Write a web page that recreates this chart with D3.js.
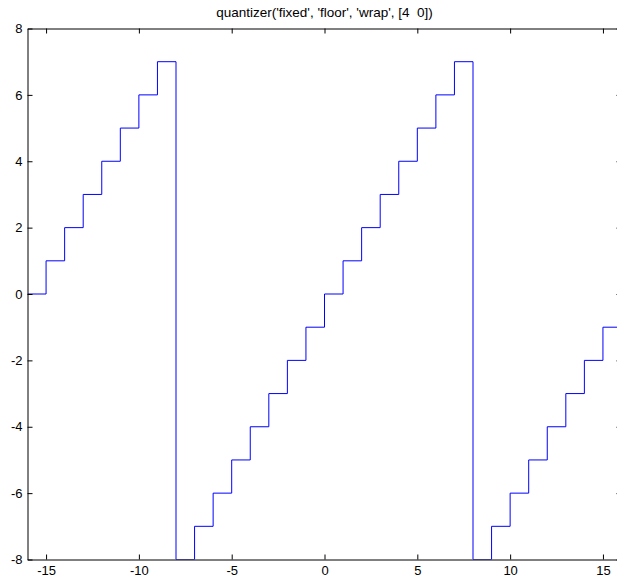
<!DOCTYPE html>
<html>
<head>
<meta charset="utf-8">
<script src="https://d3js.org/d3.v7.min.js"></script>
<style>
  body { margin: 0; background: #fff; }
  text { font-family: "Liberation Sans", Arial, sans-serif; fill: #000; }
</style>
</head>
<body>
<div id="chart"></div>
<script>
// stair samples: input value and quantized (floor, wrap, [4 0]) output
var xs = [-16, -15, -14, -13, -12, -11, -10, -9, -8, -7, -6, -5, -4, -3, -2, -1,
          0, 1, 2, 3, 4, 5, 6, 7, 8, 9, 10, 11, 12, 13, 14, 15, 16];
var ys = [0, 1, 2, 3, 4, 5, 6, 7, -8, -7, -6, -5, -4, -3, -2, -1,
          0, 1, 2, 3, 4, 5, 6, 7, -8, -7, -6, -5, -4, -3, -2, -1, -1];
var xTicks = [-15, -10, -5, 0, 5, 10, 15];
var yTicks = [-8, -6, -4, -2, 0, 2, 4, 6, 8];
var title = "quantizer('fixed', 'floor', 'wrap', [4  0])";

var W = 617, H = 580;
var x = d3.scaleLinear().domain([-16, 16]).range([27.5, 621.5]);
var y = d3.scaleLinear().domain([-8, 8]).range([559.5, 28.5]);

// plain hyphen minus like the original
var fmt = function(d){ return String(d); };

var svg = d3.select('#chart').append('svg')
    .attr('width', W).attr('height', H);

svg.append('defs').append('clipPath').attr('id', 'clip')
   .append('rect')
   .attr('x', x(-16)).attr('y', y(8))
   .attr('width', x(16) - x(-16)).attr('height', y(-8) - y(8));

// the data line
var line = d3.line()
    .x(function(d, i){ return x(xs[i]); })
    .y(function(d){ return y(d); })
    .curve(d3.curveStepAfter);

svg.append('path')
   .datum(ys)
   .attr('clip-path', 'url(#clip)')
   .attr('d', line)
   .attr('fill', 'none')
   .attr('stroke', '#0000ff')
   .attr('stroke-width', 1);

// axes on all four sides, ticks pointing inward
function styleAxis(g){
  g.select('.domain').attr('stroke', '#000');
  g.selectAll('.tick line').attr('stroke', '#000');
  g.selectAll('text').attr('font-size', 13).attr('fill', '#000')
   .attr('font-family', '"Liberation Sans", Arial, sans-serif');
}

svg.append('g')
   .attr('transform', 'translate(0,' + y(-8) + ')')
   .call(d3.axisBottom(x).tickValues(xTicks).tickSizeInner(-5).tickSizeOuter(0).tickPadding(6).tickFormat(fmt))
   .call(styleAxis);

svg.append('g')
   .attr('transform', 'translate(0,' + y(8) + ')')
   .call(d3.axisTop(x).tickValues(xTicks).tickSizeInner(-5).tickSizeOuter(0).tickFormat(''))
   .call(styleAxis);

svg.append('g')
   .attr('transform', 'translate(' + x(-16) + ',0)')
   .call(d3.axisLeft(y).tickValues(yTicks).tickSizeInner(-5).tickSizeOuter(0).tickPadding(5).tickFormat(fmt))
   .call(styleAxis);

svg.append('g')
   .attr('transform', 'translate(' + x(16) + ',0)')
   .call(d3.axisRight(y).tickValues(yTicks).tickSizeInner(-5).tickSizeOuter(0).tickFormat(''))
   .call(styleAxis);

// title
svg.append('text')
   .attr('x', (x(-16) + x(16)) / 2)
   .attr('y', 17)
   .attr('text-anchor', 'middle')
   .attr('font-size', 13.5)
   .style('white-space', 'pre')
   .text(title);
</script>
</body>
</html>
